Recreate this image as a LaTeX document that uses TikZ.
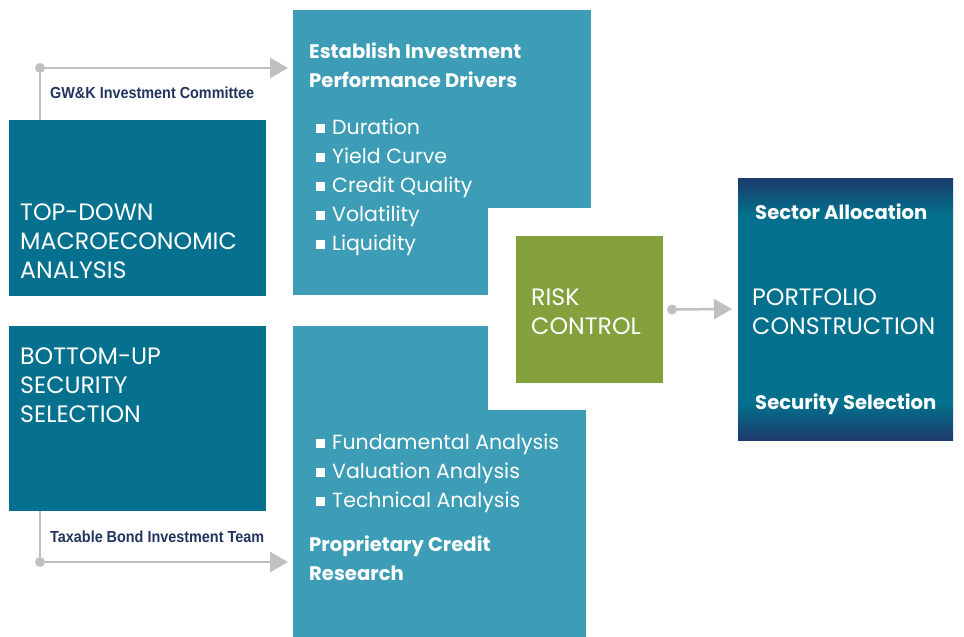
\documentclass[tikz,border=0pt]{standalone}
\usepackage{fontspec}
\setmainfont{Poppins}
\newfontfamily\labelfont[FakeStretch=0.9]{Liberation Sans}
\usetikzlibrary{arrows.meta, positioning}

\definecolor{deepteal}{HTML}{05718F}
\definecolor{lightteal}{HTML}{3E9DB6}
\definecolor{riskgreen}{HTML}{84A13D}
\definecolor{portnavy}{HTML}{1C3A6A}
\definecolor{portteal}{HTML}{03708D}
\definecolor{linkgray}{HTML}{C0C0C0}
\definecolor{labelnavy}{HTML}{22345E}

\pgfdeclareverticalshading{portshade}{100bp}{color(0bp)=(portnavy); color(25bp)=(portnavy); color(32bp)=(portteal); color(68bp)=(portteal); color(75bp)=(portnavy); color(100bp)=(portnavy)}

\newcommand{\sqbullet}{\rule[1.5pt]{9pt}{9pt}\hspace{7pt}}

\tikzset{
  box/.style={rectangle, inner sep=0pt, outer sep=0pt, anchor=north west},
  bigtext/.style={text=white, inner sep=0pt, anchor=west, align=left,
    font=\fontsize{23.7}{29}\selectfont},
  headtext/.style={text=white, inner sep=0pt, anchor=west, align=left,
    font=\fontsize{19.6}{29}\selectfont\bfseries},
  itemtext/.style={text=white, inner sep=0pt, anchor=west, align=left,
    font=\fontsize{20.5}{29}\selectfont},
  teamlabel/.style={text=labelnavy, inner sep=0pt, anchor=west,
    font=\labelfont\fontsize{16}{18}\selectfont\bfseries},
  link/.style={draw=linkgray, line width=2.5pt, -{Triangle[length=18pt, width=20pt]}},
  linkdot/.style={fill=linkgray}
}

\begin{document}
\begin{tikzpicture}[x=1pt, y=-1pt]
  \useasboundingbox (0,0) rectangle (964,637);

  % Left hand boxes
  \node[box, fill=deepteal, minimum width=257, minimum height=176] (tdbox) at (9,120) {};
  \node[box, fill=deepteal, minimum width=257, minimum height=185] (bubox) at (9,326) {};
  \node[bigtext] (tdtext) at (20,241) {TOP-DOWN\\MACROECONOMIC\\ANALYSIS};
  \node[bigtext] (butext) at (20,385) {BOTTOM-UP\\SECURITY\\SELECTION};

  % Middle boxes
  \node[box, fill=lightteal, minimum width=298, minimum height=198] (drvbox) at (293,10) {};
  \fill[lightteal] (drvbox.south west) rectangle (488,295);
  \node[box, fill=lightteal, minimum width=293, minimum height=227, anchor=south west] (crbox) at (293,637) {};
  \fill[lightteal] (crbox.north west) rectangle (488,326);

  \node[headtext] (drvhead) at (309,65) {Establish Investment\\Performance Drivers};
  \node[itemtext] (drvlist) at (316,187) {\sqbullet Duration\\\sqbullet Yield Curve\\
    \sqbullet Credit Quality\\\sqbullet Volatility\\\sqbullet Liquidity};
  \node[itemtext] (crlist) at (316,473) {\sqbullet Fundamental Analysis\\
    \sqbullet Valuation Analysis\\\sqbullet Technical Analysis};
  \node[headtext] (crhead) at (309,558) {Proprietary Credit\\Research};

  % Risk control
  \node[box, fill=riskgreen, minimum width=147, minimum height=147] (risk) at (516,236) {};
  \node[bigtext] (risktext) at (531,312) {RISK\\CONTROL};

  % Portfolio construction
  \node[box, shading=portshade, minimum width=215, minimum height=262] (port) at (738,178) {};
  \node[headtext] (sector) at (755,211.5) {Sector Allocation};
  \node[bigtext] (porttext) at (752,311.5) {PORTFOLIO\\CONSTRUCTION};
  \node[headtext] (secsel) at (755,404.5) {Security Selection};

  % Connectors
  \coordinate (tdknee) at (40,68);
  \coordinate (buknee) at (40,562);
  \draw[link, shorten >=5pt] (tdbox.north -| tdknee) -- (tdknee) -- (tdknee -| drvbox.west);
  \fill[linkdot] (tdknee) circle (5pt);
  \draw[link, shorten >=5pt] (bubox.south -| buknee) -- (buknee) -- (buknee -| crbox.west);
  \fill[linkdot] (buknee) circle (5pt);
  \draw[link, shorten <=9pt, shorten >=6pt] (risk.east) -- (port.west);
  \fill[linkdot] ([xshift=9pt]risk.east) circle (5pt);

  \node[teamlabel] (gwk) at (50,93) {GW\&K Investment Committee};
  \node[teamlabel] (taxteam) at (50,537) {Taxable Bond Investment Team};
\end{tikzpicture}
\end{document}
